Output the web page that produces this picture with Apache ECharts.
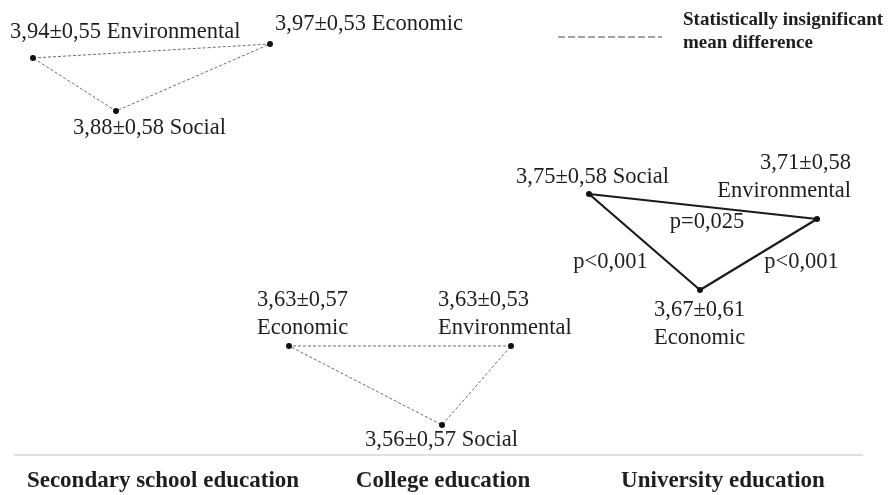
<!DOCTYPE html>
<html><head><meta charset="utf-8">
<script src="https://cdn.jsdelivr.net/npm/echarts@6/dist/echarts.min.js"></script>
<style>html,body{margin:0;padding:0;background:#fff}#c{width:889px;height:495px}</style>
</head><body><div id="c"></div>
<script>
// ---- data ----
const groups = ['Secondary school education', 'College education', 'University education'];
const dims = ['Environmental', 'Economic', 'Social'];
const meanSecondary = [3.94, 3.97, 3.88];
const sdSecondary = [0.55, 0.53, 0.58];
const meanCollege = [3.63, 3.63, 3.56];
const sdCollege = [0.53, 0.57, 0.57];
const meanUniversity = [3.71, 3.67, 3.75];
const sdUniversity = [0.58, 0.61, 0.58];
// schematic layout positions (diagram units) for Environmental, Economic, Social
const layoutXSecondary = [33, 270, 116];
const layoutYSecondary = [58, 44, 111];
const layoutXCollege = [511, 289, 442];
const layoutYCollege = [346, 346, 425];
const layoutXUniversity = [817, 700, 589];
const layoutYUniversity = [219, 290, 194];
// pairwise p-values for university (Soc-Env, Soc-Econ, Env-Econ)
const pUniversity = ['p=0,025', 'p<0,001', 'p<0,001'];
const legendText = ['Statistically insignificant', 'mean difference'];

// ---- styling ----
const serif = '"Liberation Serif", "Times New Roman", serif';
const txt = '#1e1e1e';
const FS = 22.5;
const fmt = v => v.toFixed(2).replace('.', ',');
function lbl(m, s, d, twoLine) {
  return fmt(m) + '±' + fmt(s) + (twoLine ? '\n' : ' ') + d;
}
// label placement per point: [align, dx, dy, twoLine]
const labelSecondary = [['left', -23, -26, false], ['left', 5, -20, false], ['left', -43, 17, false]];
const labelCollege = [['left', -73, -32, true], ['left', -32, -32, true], ['left', -77, 15, false]];
const labelUniversity = [['right', 34, -42, true], ['left', -46, 34, true], ['left', -73, -17, false]];

function pts(xs, ys, means, sds, lab) {
  return xs.map((x, i) => ({
    value: [x, ys[i]],
    label: {
      show: true, position: 'inside', align: lab[i][0], verticalAlign: 'middle',
      offset: [lab[i][1], lab[i][2]], formatter: lbl(means[i], sds[i], dims[i], lab[i][3]),
      fontFamily: serif, fontSize: FS, color: txt, lineHeight: 28, textBorderWidth: 0
    }
  }));
}
function tri(xs, ys) {
  return [0, 1, 2, 0].map(i => [xs[i], ys[i]]);
}
const dashed = { color: '#6d6d6d', width: 1, type: [3, 2] };
const solid = { color: '#1a1a1a', width: 2.2, type: 'solid' };

// p-value labels near edge midpoints (Soc-Env, Soc-Econ, Env-Econ)
const U = i => [layoutXUniversity[i], layoutYUniversity[i]];
const edges = [[2, 0], [2, 1], [0, 1]];
const pOffsets = [[4, 16], [-34, 20], [43, 8]];
const pData = edges.map((e, k) => {
  const a = U(e[0]), b = U(e[1]);
  return {
    value: [(a[0] + b[0]) / 2, (a[1] + b[1]) / 2],
    label: { show: true, position: 'inside', formatter: pUniversity[k], offset: pOffsets[k],
      fontFamily: serif, fontSize: FS, color: txt, textBorderWidth: 0 }
  };
});

const chart = echarts.init(document.getElementById('c'));
chart.setOption({
  backgroundColor: '#fff',
  animation: false,
  grid: { left: 0, right: 0, top: 0, bottom: 0 },
  xAxis: { type: 'value', min: 0, max: 889, show: false },
  yAxis: { type: 'value', min: 0, max: 495, inverse: true, show: false },
  series: [
    { type: 'line', data: tri(layoutXSecondary, layoutYSecondary), showSymbol: false, lineStyle: dashed, z: 1 },
    { type: 'line', data: tri(layoutXCollege, layoutYCollege), showSymbol: false, lineStyle: dashed, z: 1 },
    { type: 'line', data: tri(layoutXUniversity, layoutYUniversity), showSymbol: false, lineStyle: solid, z: 1 },
    { type: 'scatter', symbolSize: 6, itemStyle: { color: '#111', opacity: 1 }, z: 3,
      data: pts(layoutXSecondary, layoutYSecondary, meanSecondary, sdSecondary, labelSecondary)
        .concat(pts(layoutXCollege, layoutYCollege, meanCollege, sdCollege, labelCollege))
        .concat(pts(layoutXUniversity, layoutYUniversity, meanUniversity, sdUniversity, labelUniversity)) },
    { type: 'scatter', symbolSize: 0, itemStyle: { opacity: 1 }, data: pData, z: 4 }
  ],
  graphic: [
    { type: 'line', shape: { x1: 14, y1: 455, x2: 863, y2: 455 }, style: { stroke: '#d6d6d6', lineWidth: 1.5 } },
    { type: 'line', shape: { x1: 558, y1: 37, x2: 662, y2: 37 }, style: { stroke: '#444', lineWidth: 1, lineDash: [7, 3] } },
    { type: 'text', x: 683, y: 20, style: { text: legendText[0], font: 'bold 19px ' + serif, fill: txt, textVerticalAlign: 'middle' } },
    { type: 'text', x: 683, y: 43, style: { text: legendText[1], font: 'bold 19px ' + serif, fill: txt, textVerticalAlign: 'middle' } },
    { type: 'text', x: 163, y: 481, style: { text: groups[0], font: 'bold 23px ' + serif, fill: txt, textAlign: 'center', textVerticalAlign: 'middle' } },
    { type: 'text', x: 443, y: 481, style: { text: groups[1], font: 'bold 23px ' + serif, fill: txt, textAlign: 'center', textVerticalAlign: 'middle' } },
    { type: 'text', x: 723, y: 481, style: { text: groups[2], font: 'bold 23px ' + serif, fill: txt, textAlign: 'center', textVerticalAlign: 'middle' } }
  ]
});
</script></body></html>
